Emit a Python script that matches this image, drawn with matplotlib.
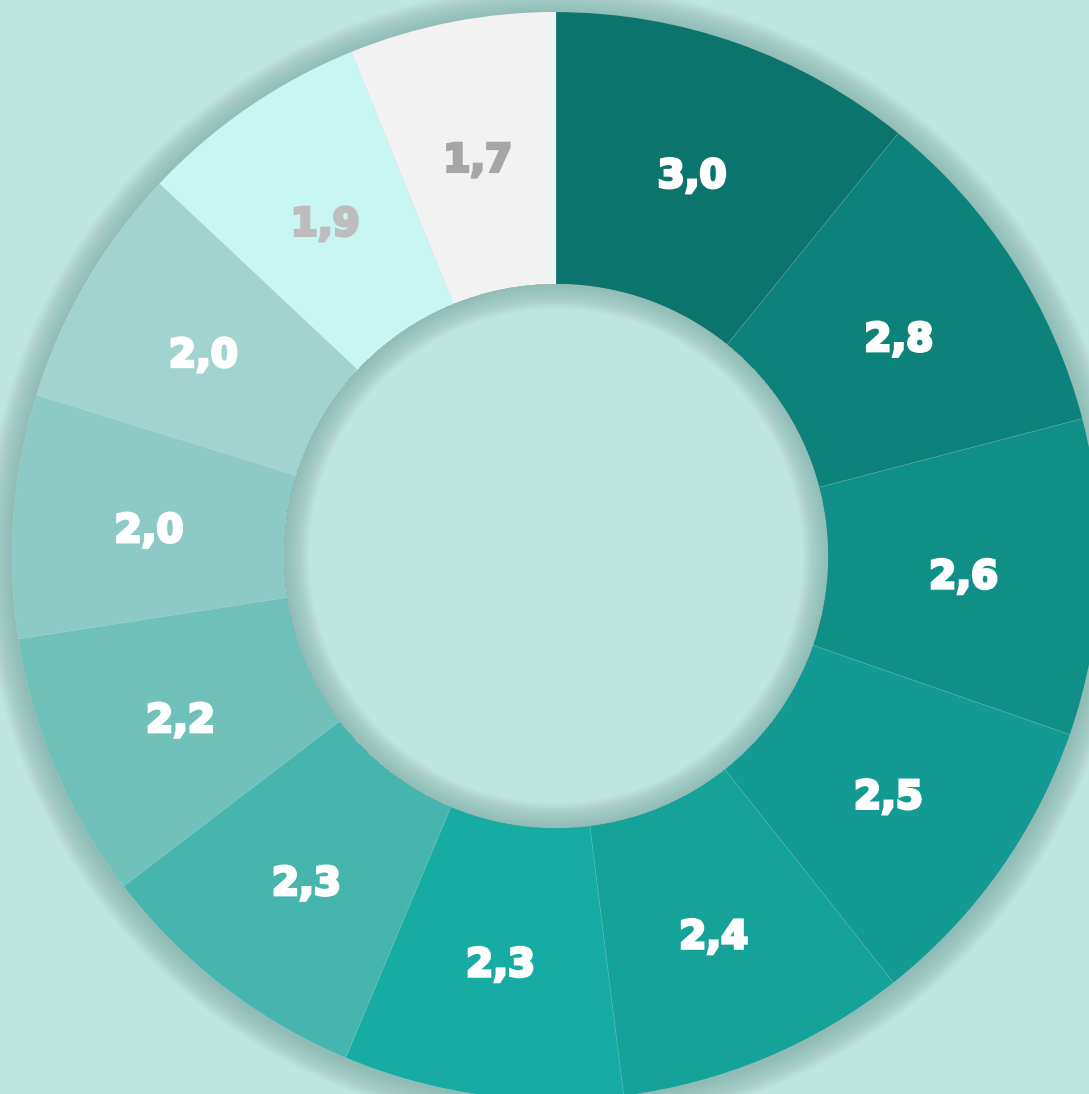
import matplotlib
matplotlib.use("Agg")
import matplotlib.pyplot as plt
from matplotlib.patches import Wedge, Circle
import matplotlib.patheffects as pe
import numpy as np

values = [3.0, 2.8, 2.6, 2.5, 2.4, 2.3, 2.3, 2.2, 2.0, 2.0, 1.9, 1.7]
labels = ["3,0", "2,8", "2,6", "2,5", "2,4", "2,3", "2,3", "2,2", "2,0", "2,0", "1,9", "1,7"]
colors = ["#0b756d", "#0d827a", "#108f87", "#139b93", "#15a299", "#17aca3",
          "#45b5ae", "#6fc1ba", "#8ecac5", "#a3d3cf", "#c8f6f3", "#f2f2f2"]
label_colors = ["white"] * 10 + ["#bdbdbd", "#a6a6a6"]
bg = "#c0e4de"

W, H = 1089, 1094
fig = plt.figure(figsize=(W / 100, H / 100), dpi=100, facecolor=bg)
ax = fig.add_axes([0, 0, 1, 1])
ax.set_facecolor(bg)
cx, cy = 556, 556
R, r = 544, 272

# outer shadow
n = 30
for i in range(n):
    rr = R + 28 * (1 - i / n)
    ax.add_patch(Circle((0, -2), rr, color="#4a7a74", alpha=0.013, lw=0, zorder=1))

wedges, _ = ax.pie(values, colors=colors, radius=R, startangle=90, counterclock=False,
                   wedgeprops=dict(width=R - r, linewidth=0.5, edgecolor=(1, 1, 1, 0.15)),
                   center=(0, 0), frame=True)
for w in wedges:
    w.set_zorder(2)
ax.set_xlim(-cx, W - cx)
ax.set_ylim(-(H - cy), cy)
ax.set_aspect("equal")
ax.axis("off")

# hole with inner shadow
ax.add_patch(Circle((0, 0), r, color=bg, lw=0, zorder=3))
m = 30
for i in range(m):
    rr = r - 26 * (i / m)
    ax.add_patch(Wedge((0, 0), r, 0, 360, width=r - rr + 0.5, color="#4a7a74",
                       alpha=0.011, lw=0, zorder=4))

total = sum(values)
cum = 0
lr = (R + r) / 2
for v, lab, lc in zip(values, labels, label_colors):
    mid = 90 - (cum + v / 2) / total * 360
    cum += v
    x = lr * np.cos(np.radians(mid))
    y = lr * np.sin(np.radians(mid)) - 5
    ax.text(x, y, lab, ha="center", va="center", color=lc, fontsize=28,
            fontweight="bold", family="DejaVu Sans", zorder=5,
            path_effects=[pe.withStroke(linewidth=2.2, foreground=lc,
                                        joinstyle="miter", capstyle="projecting")])

fig.savefig("out.png", dpi=100, facecolor=bg)
